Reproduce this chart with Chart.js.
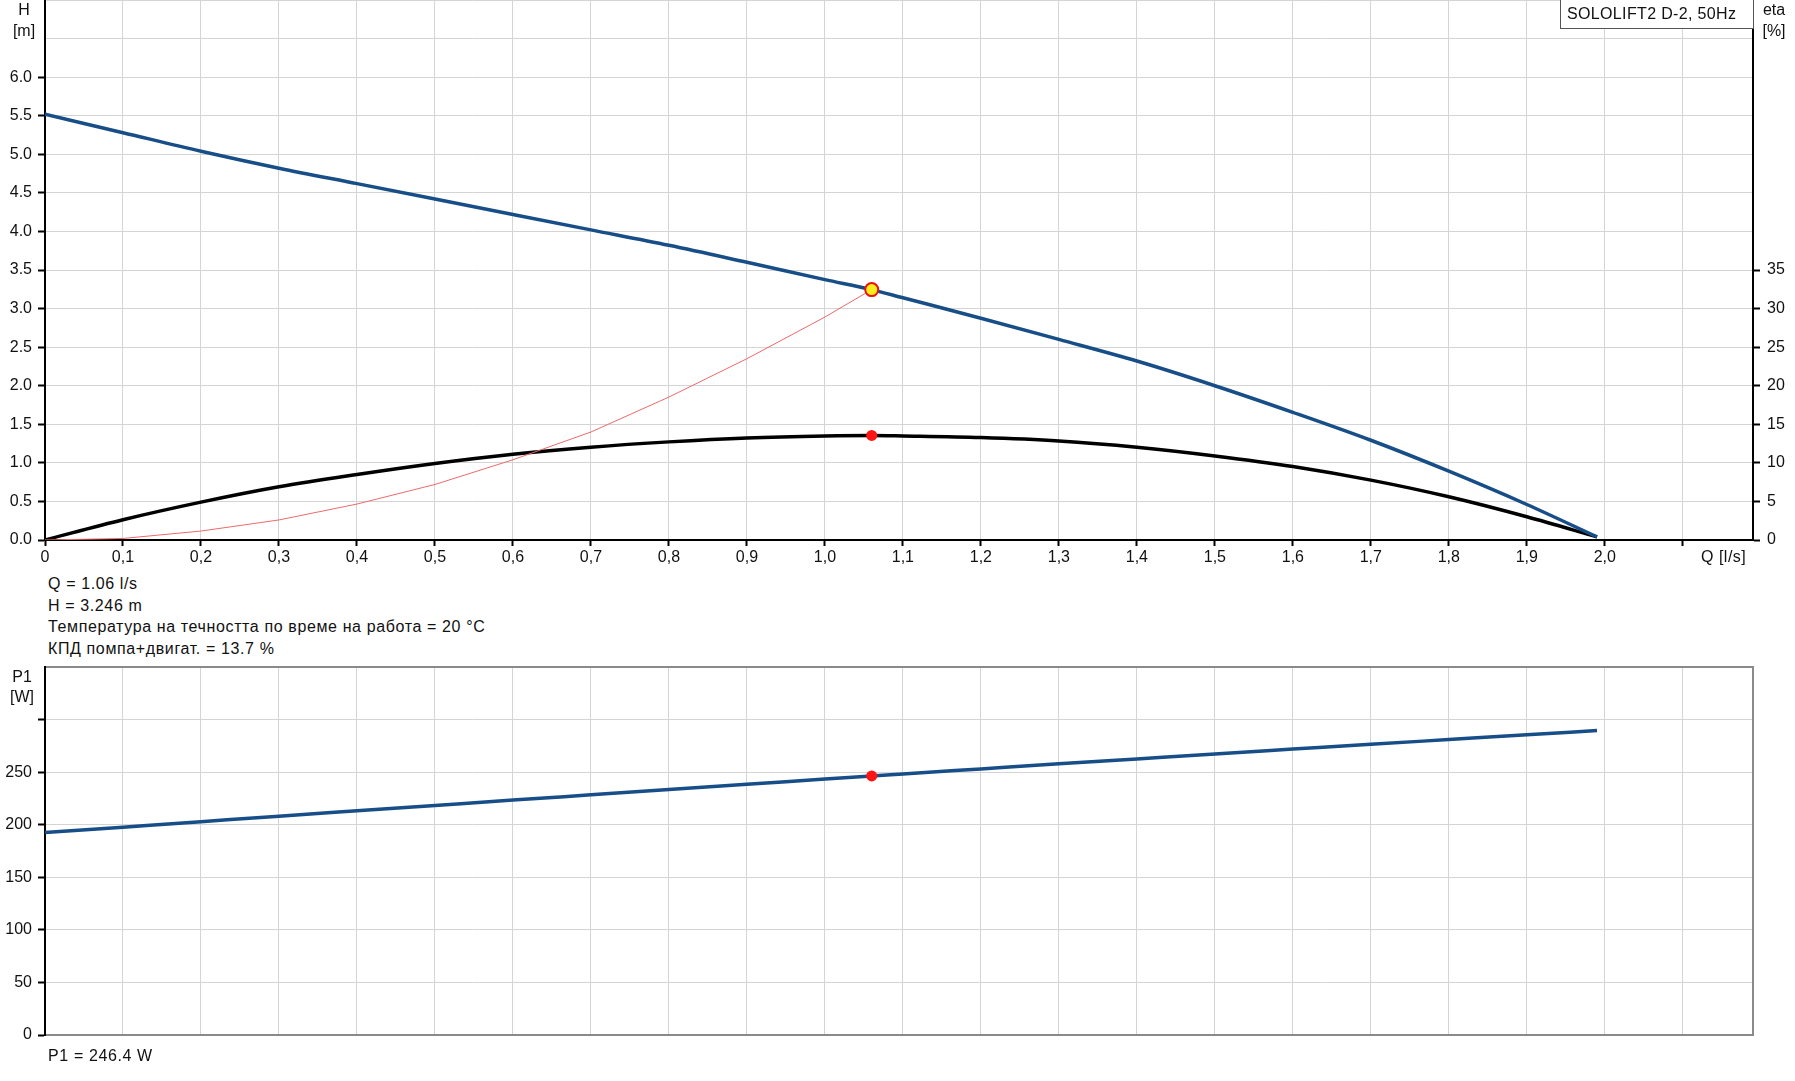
<!DOCTYPE html>
<html>
<head>
<meta charset="utf-8">
<title>SOLOLIFT2 D-2, 50Hz</title>
<script src="https://cdn.jsdelivr.net/npm/chart.js@4.4.1/dist/chart.umd.min.js"></script>
<style>
    body {
        margin: 0;
        background: #fff;
        width: 1795px;
        height: 1081px;
        position: relative;
        overflow: hidden;
        font-family: "Liberation Sans", Arial, sans-serif;
        font-size: 16px;
        color: #111;
    }
    canvas { position: absolute; left: 0; }
    #headChart { top: 0; }
    #powerChart { top: 664px; }
    .lbl { position: absolute; white-space: nowrap; line-height: 18px; letter-spacing: 0.62px; }
    .unit { width: 48px; text-align: center; letter-spacing: 0; }
    #pumpBox {
        position: absolute;
        left: 1560px; top: -1px;
        width: 186px; height: 28px;
        padding-left: 6px;
        border: 1px solid #555;
        background: #fff;
        line-height: 28px;
        white-space: nowrap;
        letter-spacing: 0.35px;
    }
</style>
</head>
<body>
<canvas id="headChart" width="1795" height="575"></canvas>
<canvas id="powerChart" width="1795" height="391"></canvas>

<div class="lbl unit" style="left:0px; top:1px;">H</div>
<div class="lbl unit" style="left:0px; top:22px;">[m]</div>
<div class="lbl unit" style="left:1750px; top:1px;">eta</div>
<div class="lbl unit" style="left:1750px; top:22px;">[%]</div>
<div id="pumpBox">SOLOLIFT2 D-2, 50Hz</div>
<div class="lbl" style="left:1701px; top:548px; letter-spacing:0.5px;">Q [l/s]</div>

<div class="lbl" style="left:48px; top:575px;">Q = 1.06 l/s</div>
<div class="lbl" style="left:48px; top:597px;">H = 3.246 m</div>
<div class="lbl" style="left:48px; top:618px;">Температура на течността по време на работа = 20 °C</div>
<div class="lbl" style="left:48px; top:640px;">КПД помпа+двигат. = 13.7 %</div>

<div class="lbl unit" style="left:-2px; top:668px;">P1</div>
<div class="lbl unit" style="left:-2px; top:688px;">[W]</div>
<div class="lbl" style="left:48px; top:1047px;">P1 = 246.4 W</div>

<script>
// --- data ---
const flowQ = [0, 0.1, 0.2, 0.3, 0.4, 0.5, 0.6, 0.7, 0.8, 0.9, 1.0, 1.06,
               1.1, 1.2, 1.3, 1.4, 1.5, 1.6, 1.7, 1.8, 1.9, 1.99];
const headH = [5.52, 5.28, 5.04, 4.82, 4.62, 4.42, 4.22, 4.02, 3.82, 3.60, 3.375, 3.246,
               3.14, 2.875, 2.60, 2.32, 2.00, 1.655, 1.293, 0.892, 0.46, 0.04];
const etaPct = [0, 2.63, 4.91, 6.9, 8.49, 9.92, 11.12, 12.03, 12.72, 13.23, 13.49, 13.55,
                13.49, 13.28, 12.84, 12.03, 10.9, 9.53, 7.76, 5.6, 3.01, 0.4];
const powerP1 = [192.5, 197.7, 202.9, 208.1, 213.2, 218.3, 223.4, 228.4, 233.4, 238.4, 243.4, 246.4,
                 248.3, 253.1, 257.9, 262.6, 267.3, 271.9, 276.5, 281.0, 285.5, 289.5];

// system curve (thin red) up to the duty point
const systemQ = [0, 0.1, 0.2, 0.3, 0.4, 0.5, 0.6, 0.7, 0.8, 0.9, 1.0, 1.06];
const systemH = [0, 0.02, 0.116, 0.26, 0.466, 0.72, 1.04, 1.40, 1.853, 2.35, 2.89, 3.246];

// duty point
const dutyQ = 1.06;
const dutyH = 3.246;
const dutyEta = 13.55;
const dutyP1 = 246.4;

// axis ranges / tick steps
const qMax = 2.19, qStep = 0.1, qLabelMax = 2.0;
const hMax = 7, hStep = 0.5, hLabelMax = 6.0;
const etaMax = 70, etaStep = 5, etaLabelMax = 35;
const pMax = 350, pStep = 50, pLabelMax = 250;

// --- shared style ---
const FONT = { family: '"Liberation Sans", Arial, sans-serif', size: 16 };
const GRID = '#d4d4d4';
const BLUE = '#174e87';
Chart.defaults.font = FONT;
Chart.defaults.color = '#111';

const pts = (xs, ys) => xs.map((x, i) => ({ x: x, y: ys[i] }));
const fixSize = (w, h) => (scale) => {
    if (w !== null) scale.width = w;
    if (h !== null) scale.height = h;
    scale.paddingTop = 0; scale.paddingBottom = 0;
    scale.paddingLeft = 0; scale.paddingRight = 0;
};
const hideAbove = (limit, color) => (c) => (c.tick && c.tick.value > limit + 1e-6) ? 'rgba(0,0,0,0)' : color;

function xAxis(showLabels) {
    return {
        type: 'linear',
        min: 0, max: qMax,
        afterFit: fixSize(null, showLabels ? 35 : 20),
        border: { color: showLabels ? '#000' : '#8a8a8a', width: 2 },
        grid: {
            color: (c) => c.tick && c.tick.value === 0 ? 'rgba(0,0,0,0)' : GRID,
            lineWidth: 1,
            drawTicks: showLabels,
            tickLength: 6,
            tickColor: '#000',
            tickWidth: 2
        },
        ticks: {
            display: showLabels,
            stepSize: qStep,
            includeBounds: false,
            maxRotation: 0,
            autoSkip: false,
            padding: 2,
            color: '#111',
            callback: (v) => v === 0 ? '0' : (v <= qLabelMax + 1e-6 ? v.toFixed(1).replace('.', ',') : '')
        }
    };
}

// --- Q-H / eta chart ---
new Chart(document.getElementById('headChart'), {
    type: 'scatter',
    data: {
        datasets: [
            {   // duty point on H curve
                data: [{ x: dutyQ, y: dutyH }],
                yAxisID: 'y',
                pointRadius: 6.5, pointBackgroundColor: '#f7ee1c',
                pointBorderColor: '#ee1111', pointBorderWidth: 2,
                showLine: false
            },
            {   // duty point on eta curve
                data: [{ x: dutyQ, y: dutyEta }],
                yAxisID: 'yEta',
                pointRadius: 5.5, pointBackgroundColor: '#ff1414',
                pointBorderWidth: 0, showLine: false
            },
            {
                data: pts(flowQ, headH),
                yAxisID: 'y',
                showLine: true, borderColor: BLUE, borderWidth: 3.5,
                pointRadius: 0, cubicInterpolationMode: 'monotone'
            },
            {
                data: pts(systemQ, systemH),
                yAxisID: 'y',
                showLine: true, borderColor: '#ec6a6a', borderWidth: 1,
                pointRadius: 0, tension: 0
            },
            {
                data: pts(flowQ, etaPct),
                yAxisID: 'yEta',
                showLine: true, borderColor: '#000', borderWidth: 3.5,
                pointRadius: 0, cubicInterpolationMode: 'monotone'
            }
        ]
    },
    options: {
        responsive: false,
        animation: false,
        devicePixelRatio: 1,
        layout: { padding: 0, autoPadding: false },
        plugins: { legend: { display: false }, tooltip: { enabled: false } },
        scales: {
            x: xAxis(true),
            y: {
                type: 'linear', position: 'left',
                min: 0, max: hMax,
                afterFit: fixSize(45, null),
                border: { color: '#000', width: 2 },
                grid: {
                    color: (c) => c.tick && c.tick.value === 0 ? 'rgba(0,0,0,0)' : GRID,
                    tickLength: 7, tickWidth: 2,
                    tickColor: hideAbove(hLabelMax, '#000')
                },
                ticks: {
                    stepSize: hStep, padding: 6, color: '#111',
                    callback: (v) => v <= hLabelMax + 1e-6 ? v.toFixed(1) : ''
                }
            },
            yEta: {
                type: 'linear', position: 'right',
                min: 0, max: etaMax,
                afterFit: fixSize(42, null),
                border: { color: '#000', width: 2 },
                grid: {
                    drawOnChartArea: false,
                    tickLength: 7, tickWidth: 2,
                    tickColor: hideAbove(etaLabelMax, '#000')
                },
                ticks: {
                    stepSize: etaStep, padding: 7, color: '#111',
                    callback: (v) => v <= etaLabelMax + 1e-6 ? String(v) : ''
                }
            }
        }
    }
});

// --- P1 chart ---
new Chart(document.getElementById('powerChart'), {
    type: 'scatter',
    data: {
        datasets: [
            {
                data: [{ x: dutyQ, y: dutyP1 }],
                pointRadius: 5.5, pointBackgroundColor: '#ff1414',
                pointBorderWidth: 0, showLine: false
            },
            {
                data: pts(flowQ, powerP1),
                showLine: true, borderColor: BLUE, borderWidth: 3.5,
                pointRadius: 0, cubicInterpolationMode: 'monotone'
            }
        ]
    },
    options: {
        responsive: false,
        animation: false,
        devicePixelRatio: 1,
        layout: { padding: { top: 3 }, autoPadding: false },
        plugins: { legend: { display: false }, tooltip: { enabled: false } },
        scales: {
            x: xAxis(false),
            y: {
                type: 'linear', position: 'left',
                min: 0, max: pMax,
                afterFit: fixSize(45, null),
                border: { color: '#000', width: 2 },
                grid: {
                    color: (c) => {
                        if (!c.tick) return GRID;
                        if (c.tick.value === 0) return 'rgba(0,0,0,0)';
                        return c.tick.value === pMax ? '#8a8a8a' : GRID;
                    },
                    lineWidth: (c) => c.tick && c.tick.value === pMax ? 2 : 1,
                    tickLength: 7, tickWidth: 2,
                    tickColor: hideAbove(pMax - pStep, '#000')
                },
                ticks: {
                    stepSize: pStep, padding: 6, color: '#111',
                    callback: (v) => v <= pLabelMax ? String(v) : ''
                }
            },
            yFrame: {
                type: 'linear', position: 'right',
                min: 0, max: pMax,
                afterFit: fixSize(42, null),
                border: { color: '#8a8a8a', width: 2 },
                grid: { drawOnChartArea: false, drawTicks: false },
                ticks: { display: false }
            }
        }
    }
});
</script>
</body>
</html>
